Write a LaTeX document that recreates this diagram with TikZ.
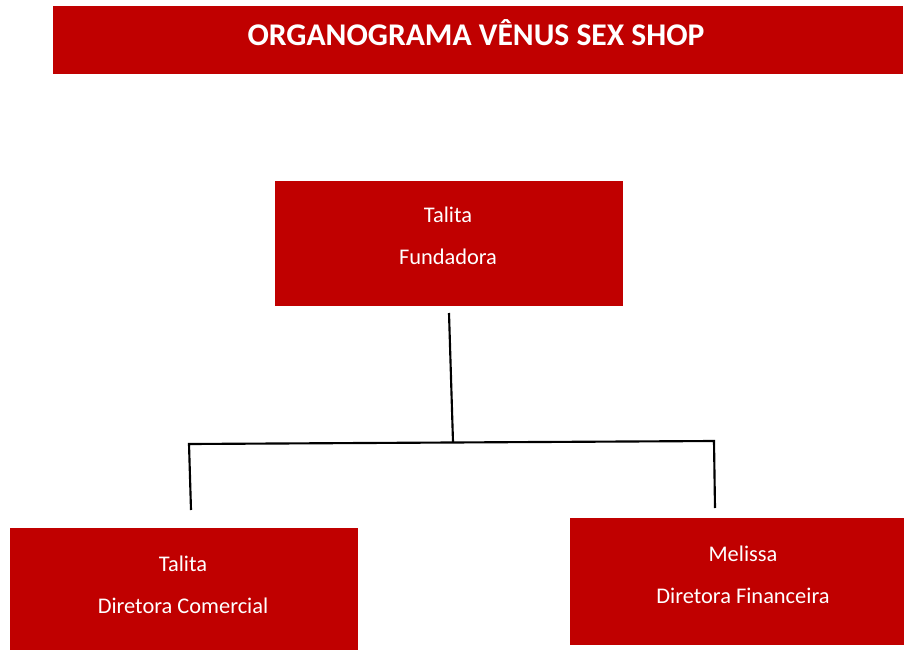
\documentclass[tikz,border=0pt]{standalone}
\usepackage{fontspec}
\setmainfont{Carlito}
\usetikzlibrary{positioning, calc}
\definecolor{venusred}{RGB}{192, 0, 0}

\begin{document}
\begin{tikzpicture}[
    x=0.75pt, y=-0.75pt,
    orgbox/.style={fill=venusred, draw=none, anchor=north west, inner sep=0pt},
    orgtext/.style={text=white, align=center, font=\fontsize{16.8}{31.5}\selectfont},
    titletext/.style={text=white, font=\fontsize{23.7}{28}\selectfont\bfseries},
    link/.style={line width=1.6pt, black}
]
\useasboundingbox (0,0) rectangle (904,650);

% Title
\node[orgbox, minimum width=637.5pt, minimum height=51pt] (titlebox) at (53,6) {};
\node[titletext] (title) at (476,33) {ORGANOGRAMA VÊNUS SEX SHOP};

% Boxes
\node[orgbox, minimum width=261pt, minimum height=93.75pt] (fundbox) at (275,181) {};
\node[orgbox, minimum width=261pt, minimum height=97.5pt] (combox) at (10,528) {};
\node[orgbox, minimum width=252pt, minimum height=95.25pt] (finbox) at (570,518) {};

% Names and roles
\node[orgtext] (fund) at (448,236) {Talita\\Fundadora};
\node[orgtext] (com) at (183,585) {Talita\\Diretora Comercial};
\node[orgtext] (fin) at (743,575) {Melissa\\Diretora Financeira};

% Connectors
\coordinate (fundbot) at (449,313);
\coordinate (junc) at (453,442);
\coordinate (lcorner) at (189,444);
\coordinate (lend) at (191,510);
\coordinate (rcorner) at (714,441);
\coordinate (rend) at (715,508);

\draw[link] (fundbot) -- (junc);
\draw[link] (lend) -- (lcorner) -- (rcorner) -- (rend);

\end{tikzpicture}
\end{document}
